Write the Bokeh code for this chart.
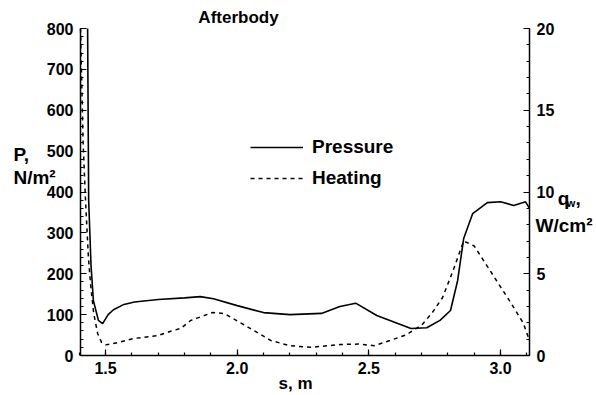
from bokeh.plotting import figure
from bokeh.models import (Range1d, LinearAxis, Label, Legend, LegendItem,
                          FixedTicker, NumeralTickFormatter)
from bokeh.embed import file_html
from bokeh.resources import INLINE

# ---- data ----
s_pressure = [1.432, 1.436, 1.445, 1.454, 1.473, 1.489, 1.51, 1.53, 1.57, 1.61,
              1.70, 1.80, 1.86, 1.91, 2.00, 2.10, 2.20, 2.32, 2.39, 2.45,
              2.53, 2.61, 2.66, 2.72, 2.77, 2.81, 2.837, 2.86, 2.894, 2.95,
              3.00, 3.05, 3.095, 3.11]
pressure = [800, 380, 220, 134, 86, 78, 100, 112, 125, 131,
            137, 141, 144, 139, 122, 105, 100, 103, 120, 128,
            98, 78, 66, 68, 86, 110, 183, 286, 347, 374,
            376, 367, 376, 360]

s_heating = [1.405, 1.415, 1.424, 1.435, 1.443, 1.455, 1.47, 1.485, 1.50, 1.55,
             1.606, 1.70, 1.75, 1.785, 1.823, 1.85, 1.906, 1.95, 2.013, 2.077,
             2.127, 2.20, 2.28, 2.39, 2.46, 2.52, 2.58, 2.64, 2.70, 2.74,
             2.78, 2.82, 2.86, 2.90, 2.96, 3.04, 3.087, 3.11]
heating = [20, 13, 9.5, 6, 4.4, 2.6, 1.35, 0.8, 0.65, 0.8,
           1.04, 1.22, 1.5, 1.65, 2.14, 2.3, 2.63, 2.57, 2.0, 1.4,
           0.92, 0.6, 0.5, 0.67, 0.7, 0.6, 0.92, 1.25, 1.85, 2.6,
           3.55, 5.2, 7.0, 6.7, 5.2, 3.2, 1.96, 0.9]

x_ticks = [1.5, 2.0, 2.5, 3.0]
p_ticks = [0, 100, 200, 300, 400, 500, 600, 700, 800]
q_ticks = [0, 5, 10, 15, 20]

S_MIN, S_MAX = 1.405, 3.11
P_MIN, P_MAX = 0, 800
Q_MIN, Q_MAX = 0, 20

# ---- layout (pixels) ----
W, H = 596, 395
FL, FR, FT, FB = 80, 529, 28, 355   # plotting box edges in pixels

sx = (FR - FL) / (S_MAX - S_MIN)
sp = (FB - FT) / (P_MAX - P_MIN)
sq = (FB - FT) / (Q_MAX - Q_MIN)
x_range = Range1d(S_MIN - FL / sx, S_MAX + (W - FR) / sx)
y_range = Range1d(P_MIN - (H - FB) / sp, P_MAX + FT / sp)
q_range = Range1d(Q_MIN - (H - FB) / sq, Q_MAX + FT / sq)

FONT = "Liberation Sans"

p = figure(width=W, height=H, output_backend="svg", toolbar_location=None,
           x_range=x_range, y_range=y_range, x_axis_type=None, y_axis_type=None,
           min_border=0)
p.extra_y_ranges = {"q": q_range}
p.outline_line_color = None
p.xgrid.visible = False
p.ygrid.visible = False
p.background_fill_color = "white"
p.border_fill_color = "white"

r_p = p.line(s_pressure, pressure, line_color="black", line_width=1.6)
r_q = p.line(s_heating, heating, line_color="black", line_width=1.5,
             line_dash="4 4", y_range_name="q")

xaxis = LinearAxis(fixed_location=P_MIN, bounds=(S_MIN, S_MAX))
left = LinearAxis(fixed_location=S_MIN, bounds=(P_MIN, P_MAX))
right = LinearAxis(y_range_name="q", fixed_location=S_MAX, bounds=(Q_MIN, Q_MAX))
p.add_layout(xaxis, "below")
p.add_layout(left, "left")
p.add_layout(right, "right")

for ax in [xaxis, left, right]:
    ax.axis_line_color = "black"
    ax.axis_line_width = 1.5
    ax.major_tick_in = 6
    ax.major_tick_out = 0
    ax.minor_tick_in = 3
    ax.minor_tick_out = 0
    ax.major_tick_line_color = "black"
    ax.minor_tick_line_color = "black"
    ax.major_tick_line_width = 1.2
    ax.minor_tick_line_width = 1.2
    ax.major_label_text_font = FONT
    ax.major_label_text_font_style = "bold"
    ax.major_label_text_font_size = "16px"
    ax.major_label_text_color = "black"

xaxis.ticker = FixedTicker(ticks=x_ticks,
                           minor_ticks=[round(1.4 + 0.1 * i, 2) for i in range(18)])
xaxis.formatter = NumeralTickFormatter(format="0.0")
xaxis.major_label_standoff = 6
left.ticker = FixedTicker(ticks=p_ticks, minor_ticks=list(range(0, 801, 20)))
left.major_label_standoff = 7
right.ticker = FixedTicker(ticks=q_ticks, minor_ticks=list(range(0, 21)))
right.major_label_standoff = 7

# ---- legend ----
legend = Legend(items=[LegendItem(label="Pressure", renderers=[r_p]),
                       LegendItem(label="Heating", renderers=[r_q])],
                location=(250, 206), padding=0, margin=0, spacing=9,
                glyph_width=53, glyph_height=22, label_height=22,
                label_standoff=9, border_line_color=None,
                background_fill_alpha=0,
                label_text_font=FONT, label_text_font_style="bold",
                label_text_font_size="19px", label_text_color="black")
p.add_layout(legend, "center")


def txt(x, y, t, size="19px", align="left"):
    p.add_layout(Label(x=x, y=y, text=t, text_font=FONT, text_font_style="bold",
                       text_font_size=size, text_align=align,
                       text_baseline="alphabetic", text_color="black"))


# title
txt(2.005, 827, "Afterbody", size="17px", align="center")
# left axis label
txt(1.1505, 492, "P,")
txt(1.1505, 435, "N/m²")
# right axis label
txt(3.217, 384, "q")
txt(3.251, 374, "w", size="11px")
txt(3.285, 384, ",")
txt(3.133, 318, "W/cm²")
# x axis label
txt(2.2216, -68, "s, m", size="17px", align="center")

open("out.html", "w").write(file_html(p, INLINE))
